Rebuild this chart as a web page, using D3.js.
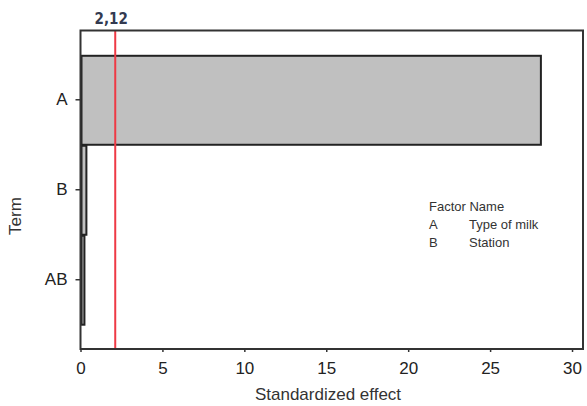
<!DOCTYPE html>
<html><head><meta charset="utf-8">
<script src="https://cdn.jsdelivr.net/npm/d3@7"></script>
<style>body{margin:0;background:#fff}svg{display:block}</style>
</head><body>
<svg id="c" width="587" height="406"></svg>
<script>
const terms = ["A", "B", "AB"];
const effects = [28.1, 0.36, 0.24];
const xTicks = [0, 5, 10, 15, 20, 25, 30];
const refValue = 2.12;
const refLabel = "2,12";
const legendHeader = ["Factor", "Name"];
const legendFactors = ["A", "B"];
const legendNames = ["Type of milk", "Station"];

const svg = d3.select("#c");
const L = 80.5, R = 583, T = 30.5, B = 349;
const x = d3.scaleLinear().domain([0, 30.67]).range([L, R]);
const y = d3.scaleBand().domain(terms).range([T, B]).paddingInner(0).paddingOuter(0.27);
const font = "'Liberation Sans', Arial, sans-serif";

// bars
svg.selectAll("rect.bar").data(terms).enter().append("rect")
  .attr("x", x(0) + 1)
  .attr("y", d => y(d) + 1)
  .attr("width", (d, i) => Math.max(0, x(effects[i]) - x(0) - 1))
  .attr("height", y.bandwidth() - 1)
  .attr("fill", "#c0c0c0").attr("stroke", "#222").attr("stroke-width", 2);

// reference line
svg.append("line").attr("x1", x(refValue)).attr("x2", x(refValue))
  .attr("y1", T).attr("y2", B).attr("stroke", "#ee3a45").attr("stroke-width", 2);
svg.append("text").attr("x", x(refValue) - 4).attr("y", 24).attr("text-anchor", "middle")
  .attr("font-family", "'DejaVu Sans Condensed', 'DejaVu Sans', sans-serif").attr("font-weight", "bold")
  .attr("font-size", 15).attr("fill", "#333a50").text(refLabel);

// frame
svg.append("rect").attr("x", L).attr("y", T).attr("width", R - L).attr("height", B - T)
  .attr("fill", "none").attr("stroke", "#333").attr("stroke-width", 2);

// x axis
const xa = svg.append("g").attr("transform", `translate(0,${B})`)
  .call(d3.axisBottom(x).tickValues(xTicks).tickSize(3).tickPadding(10).tickFormat(d3.format("d")));
xa.select(".domain").remove();
xa.selectAll("line").attr("stroke", "#333").attr("stroke-width", 1.5);
xa.selectAll("text").attr("font-family", font).attr("font-size", 17).attr("fill", "#222");

// y axis
const ya = svg.append("g").attr("transform", `translate(${L},0)`)
  .call(d3.axisLeft(y).tickSize(5).tickPadding(8));
ya.select(".domain").remove();
ya.selectAll("line").attr("stroke", "#333").attr("stroke-width", 1.5);
ya.selectAll("text").attr("font-family", font).attr("font-size", 17).attr("fill", "#222");

// axis titles
svg.append("text").attr("x", 328).attr("y", 400).attr("text-anchor", "middle")
  .attr("font-family", font).attr("font-size", 17).attr("fill", "#333").text("Standardized effect");
svg.append("text").attr("transform", "translate(21,216) rotate(-90)").attr("text-anchor", "middle")
  .attr("font-family", font).attr("font-size", 17).attr("fill", "#333").text("Term");

// legend
const lg = svg.append("g").attr("font-family", font).attr("font-size", 13).attr("fill", "#333");
lg.append("text").attr("x", 429).attr("y", 211).text(legendHeader.join(" "));
legendFactors.forEach((f, i) => {
  lg.append("text").attr("x", 429).attr("y", 229 + i * 18.3).text(f);
  lg.append("text").attr("x", 469).attr("y", 229 + i * 18.3).text(legendNames[i]);
});
</script>
</body></html>
